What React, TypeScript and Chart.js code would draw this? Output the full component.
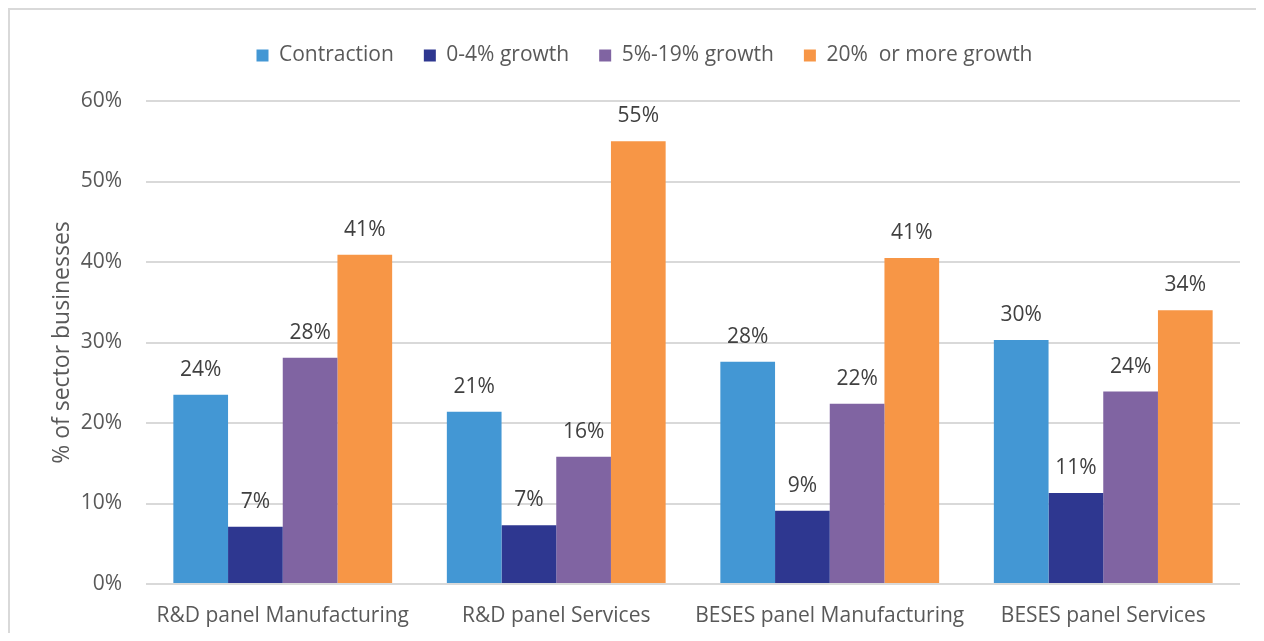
import React, { useEffect, useRef } from "react";
import { Chart, registerables } from "chart.js";

Chart.register(...registerables);

const categories = [
  "R&D panel Manufacturing",
  "R&D panel Services",
  "BESES panel Manufacturing",
  "BESES panel Services",
];
const seriesNames = ["Contraction", "0-4% growth", "5%-19% growth", "20%  or more growth"];
const contraction = [23.5, 21.4, 27.6, 30.3];
const growth0to4 = [7.1, 7.3, 9.1, 11.3];
const growth5to19 = [28.1, 15.8, 22.4, 23.9];
const growth20plus = [40.9, 55.0, 40.5, 34.0];
const seriesColors = ["#4397D4", "#2E3790", "#8064A2", "#F79646"];
const yMin = 0;
const yMax = 60;
const yStep = 10;
const yTitle = "% of sector businesses";

const FONT = "'Open Sans', sans-serif";
const TEXT = "#595959";

const valueLabels = {
  id: "valueLabels",
  afterDatasetsDraw(chart: any) {
    const ctx = chart.ctx;
    ctx.save();
    ctx.font = `21px ${FONT}`;
    ctx.fillStyle = "#404040";
    ctx.textAlign = "center";
    ctx.textBaseline = "alphabetic";
    chart.data.datasets.forEach((ds: any, i: number) => {
      const meta = chart.getDatasetMeta(i);
      meta.data.forEach((el: any, j: number) => {
        const v = ds.data[j];
        ctx.fillText(Math.round(v) + "%", el.x, el.y - 19);
      });
    });
    ctx.restore();
  },
};

const legendSpacer = {
  id: "legendSpacer",
  beforeInit(chart: any) {
    const lg = chart.legend;
    if (!lg) return;
    const orig = lg.fit;
    lg.fit = function () {
      orig.call(this);
      this.height += 25;
    };
  },
};

export default function App() {
  const ref = useRef<HTMLCanvasElement>(null);
  useEffect(() => {
    const all = [contraction, growth0to4, growth5to19, growth20plus];
    const chart = new Chart(ref.current as HTMLCanvasElement, {
      type: "bar",
      data: {
        labels: categories,
        datasets: all.map((d, i) => ({
          label: seriesNames[i],
          data: d,
          backgroundColor: seriesColors[i],
          borderWidth: 0,
          categoryPercentage: 0.8,
          barPercentage: 1.0,
        })),
      },
      options: {
        responsive: false,
        animation: false,
        layout: { padding: { left: 39, right: 16, top: 5, bottom: 0 } },
        plugins: {
          tooltip: { enabled: false },
          legend: {
            position: "top",
            labels: {
              font: { family: FONT, size: 21 },
              color: TEXT,
              boxWidth: 12,
              boxHeight: 12,
              padding: 30,
            },
          },
        },
        scales: {
          x: {
            grid: { display: false },
            border: { display: false },
            ticks: { font: { family: FONT, size: 21 }, color: TEXT, padding: 11, maxRotation: 0 },
            afterFit: (s: any) => {
              s.height = 49;
            },
          },
          y: {
            min: yMin,
            max: yMax,
            grid: { color: "#d9d9d9", lineWidth: 2, drawTicks: false },
            border: { display: false },
            ticks: {
              stepSize: yStep,
              font: { family: FONT, size: 21 },
              color: TEXT,
              padding: 24,
              callback: (v: any) => v + "%",
            },
            title: {
              display: true,
              text: yTitle,
              font: { family: FONT, size: 23 },
              color: TEXT,
              padding: { top: 0, bottom: 0 },
            },
            afterFit: (s: any) => {
              s.width = 97;
            },
          },
        },
      },
      plugins: [valueLabels, legendSpacer],
    });
    return () => chart.destroy();
  }, []);
  return (
    <div
      style={{
        width: 1248,
        height: 625,
        boxSizing: "border-box",
        borderTop: "2px solid #d9d9d9",
        borderLeft: "2px solid #d9d9d9",
      }}
    >
      <canvas ref={ref} width={1246} height={623} style={{ display: "block" }} />
    </div>
  );
}
